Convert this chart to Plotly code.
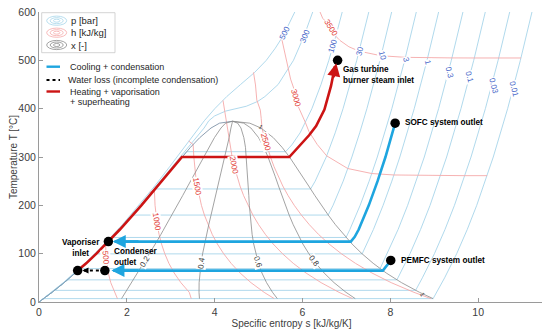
import plotly.graph_objects as go

# ---- saturation dome and quality lines (s in kJ/kg/K, T in degC) ----
Q_T = [7, 20, 40, 60, 80, 100, 120, 140, 160, 180, 200, 220, 240, 260, 280,
       300, 320, 340, 360, 370, 373.95]
X00 = [0.106, 0.297, 0.572, 0.831, 1.076, 1.307, 1.528, 1.739, 1.943, 2.139, 2.331,
       2.518, 2.702, 2.885, 3.069, 3.255, 3.449, 3.660, 3.917, 4.111, 4.407]
X02 = [1.880, 1.970, 2.109, 2.247, 2.383, 2.517, 2.648, 2.777, 2.904, 3.029, 3.150,
       3.271, 3.390, 3.508, 3.626, 3.745, 3.867, 3.995, 4.144, 4.249, 4.407]
X04 = [3.654, 3.644, 3.646, 3.662, 3.690, 3.726, 3.768, 3.815, 3.866, 3.918, 3.970,
       4.024, 4.078, 4.131, 4.184, 4.235, 4.284, 4.330, 4.371, 4.386, 4.407]
X06 = [5.427, 5.318, 5.182, 5.077, 4.997, 4.935, 4.889, 4.853, 4.827, 4.807, 4.790,
       4.778, 4.766, 4.755, 4.742, 4.725, 4.702, 4.665, 4.599, 4.524, 4.407]
X08 = [7.201, 6.992, 6.719, 6.493, 6.304, 6.145, 6.009, 5.891, 5.789, 5.696, 5.610,
       5.531, 5.454, 5.378, 5.299, 5.215, 5.119, 5.001, 4.826, 4.662, 4.407]
X10 = [8.975, 8.666, 8.256, 7.908, 7.611, 7.354, 7.129, 6.929, 6.750, 6.586, 6.430,
       6.284, 6.142, 6.001, 5.857, 5.705, 5.536, 5.336, 5.054, 4.800, 4.407]

# saturated liquid line down to the origin
LIQ_T = [0.01] + Q_T
LIQ_S = [0.0] + X00

# ---- isobars [bar] ----
P_LEVELS = ["0.01", "0.03", "0.1", "0.3", "1", "3", "10", "30", "100"]
P_TSAT = [7.0, 24.1, 45.8, 69.1, 99.6, 133.5, 179.9, 233.9, 311.0]
P_SF = [0.106, 0.354, 0.649, 0.944, 1.303, 1.672, 2.138, 2.645, 3.360]
P_SG = [8.975, 8.577, 8.149, 7.768, 7.359, 6.992, 6.585, 6.186, 5.616]
P_SUP_T = [
    [25, 50, 100, 150, 200, 250, 300, 400, 500, 600],
    [50, 100, 150, 200, 250, 300, 400, 500, 600],
    [50, 100, 150, 200, 250, 300, 400, 500, 600],
    [100, 150, 200, 250, 300, 400, 500, 600],
    [150, 200, 250, 300, 400, 500, 600],
    [150, 200, 250, 300, 400, 500, 600],
    [200, 250, 300, 350, 400, 500, 600],
    [250, 300, 350, 400, 450, 500, 600],
    [325, 350, 400, 450, 500, 550, 600],
]
P_SUP_S = [
    [9.090, 9.237, 9.512, 9.752, 9.968, 10.164, 10.345, 10.672, 10.962, 11.226],
    [8.730, 9.005, 9.245, 9.461, 9.657, 9.838, 10.165, 10.455, 10.719],
    [8.174, 8.449, 8.689, 8.905, 9.102, 9.283, 9.609, 9.900, 10.163],
    [7.931, 8.177, 8.395, 8.593, 8.774, 9.100, 9.390, 9.654],
    [7.615, 7.836, 8.035, 8.217, 8.545, 8.836, 9.100],
    [7.079, 7.313, 7.518, 7.704, 8.035, 8.327, 8.592],
    [6.696, 6.927, 7.125, 7.303, 7.467, 7.764, 8.031],
    [6.289, 6.541, 6.745, 6.924, 7.086, 7.236, 7.510],
    [5.757, 5.946, 6.214, 6.422, 6.600, 6.759, 6.905],
]
P300_T = [0.01, 20, 40, 60, 80, 100, 120, 140, 160, 180, 200, 220, 240, 260, 280, 300,
          320, 340, 360, 375, 385, 395, 400, 405, 415, 425, 450, 500, 550, 600]
P300_S = [0.0, 0.290, 0.560, 0.814, 1.055, 1.285, 1.505, 1.716, 1.919, 2.115, 2.306,
          2.490, 2.672, 2.852, 3.032, 3.215, 3.400, 3.590, 3.760, 3.867, 4.000, 4.250,
          4.476, 4.720, 4.980, 5.144, 5.445, 5.795, 6.034, 6.233]
P500_T = [0.01, 40, 80, 120, 160, 200, 240, 280, 320, 350, 375, 400, 425, 450, 475,
          500, 525, 550, 600]
P500_S = [0.0, 0.553, 1.044, 1.489, 1.898, 2.277, 2.636, 2.976, 3.305, 3.550, 3.764,
          4.003, 4.275, 4.590, 4.910, 5.176, 5.380, 5.556, 5.825]

# ---- isenthalps [kJ/kg] ----
H500_T = [110.6, 119.1, 100, 80, 60, 40, 20, 7]
H500_S = [1.390, 1.519, 1.524, 1.543, 1.578, 1.634, 1.716, 1.786]
H1000_T = [226, 232, 200, 180, 160, 140, 120, 100, 80, 60, 40, 20, 7]
H1000_S = [2.514, 2.628, 2.643, 2.662, 2.692, 2.734, 2.790, 2.864, 2.958, 3.079,
           3.231, 3.422, 3.467]
H1500_T = [333, 325.8, 300, 280, 260, 240, 220, 200, 180, 160, 140, 120, 100, 80,
           60, 40, 20, 7]
H1500_S = [3.410, 3.510, 3.526, 3.545, 3.570, 3.603, 3.646, 3.699, 3.766, 3.847,
           3.944, 4.062, 4.204, 4.375, 4.580, 4.827, 5.127, 5.356]
H2000_T = [417, 389, 370, 360, 340, 320, 300, 280, 260, 240, 220, 200, 180, 160,
           140, 120, 100, 80, 60, 40, 20, 7]
H2000_S = [4.190, 4.240, 4.281, 4.293, 4.322, 4.357, 4.398, 4.448, 4.507, 4.578,
           4.660, 4.756, 4.870, 5.001, 5.154, 5.333, 5.544, 5.790, 6.081, 6.424,
           6.833, 7.141]
H2500_T = [475, 449, 418, 397, 380, 358, 340, 320, 300, 280, 260, 240, 220, 200,
           180, 160, 140, 120, 100, 80, 60, 40, 20, 7]
H2500_S = [4.885, 4.930, 4.960, 5.040, 5.060, 5.080, 5.138, 5.200, 5.271, 5.352,
           5.445, 5.552, 5.673, 5.813, 5.974, 6.156, 6.364, 6.605, 6.884, 7.206,
           7.582, 8.021, 8.539, 8.926]
H3000_T = [545.8, 518.9, 483.9, 461, 437.5, 404.3, 371.9, 353, 325.9, 302.4, 276.2,
           265.8, 262.8, 262, 261.4, 261.4, 261.4]
H3000_S = [5.524, 5.592, 5.682, 5.730, 5.819, 5.904, 6.064, 6.146, 6.336, 6.551,
           7.030, 7.577, 8.081, 8.636, 9.143, 9.699, 10.205]
H3500_T = [600, 587, 574, 549.9, 541.4, 528.1, 519, 509.5, 506.2, 505.2, 505,
           504.9, 504.9, 504.9]
H3500_S = [6.400, 6.460, 6.598, 6.759, 6.849, 7.057, 7.288, 7.790, 8.343, 8.850,
           9.406, 9.913, 10.469, 10.976]

# ---- process paths ----
COOL1_T = [370, 300, 250, 200, 150, 135, 125, 125]
COOL1_S = [8.11, 7.89, 7.71, 7.51, 7.28, 7.19, 7.10, 1.72]
COOL2_T = [86, 78, 70, 65, 65]
COOL2_S = [8.01, 7.94, 7.87, 7.83, 1.69]
LOSS_T = [65, 65]
LOSS_S = [1.50, 0.88]
HEAT_T = [65, 80, 100, 125, 150, 200, 250, 300, 300, 315, 326, 345, 364, 398, 447, 488]
HEAT_S = [0.88, 1.076, 1.307, 1.58, 1.842, 2.331, 2.793, 3.255, 5.70, 5.85, 5.97,
          6.15, 6.31, 6.50, 6.65, 6.74]
POINT_T = [500, 370, 86, 125, 65, 65]
POINT_S = [6.80, 8.11, 8.01, 1.58, 1.50, 0.88]

FONT = "Liberation Sans, Arial, sans-serif"
C_P = "#a7d5ea"
C_H = "#f5a9a9"
C_X = "#8c8c8c"
C_BLUE = "#1ea5df"
C_RED = "#cc1414"

# the page body adds an 8 px offset, so the figure is laid out 8 px smaller
PAGE_OFF = 8
ML, MR, MT, MB = 39 - PAGE_OFF, 6, 12 - PAGE_OFF, 33
PLOT_W, PLOT_H = 505, 290

fig = go.Figure()


def add_line(xs, ys, color, width, dash="solid"):
    fig.add_trace(go.Scatter(x=xs, y=ys, mode="lines", showlegend=False,
                             hoverinfo="skip",
                             line=dict(color=color, width=width, dash=dash)))


# isobars
for tsat, sf, sg, ts, ss in zip(P_TSAT, P_SF, P_SG, P_SUP_T, P_SUP_S):
    liq = [(s, t) for s, t in zip(LIQ_S, LIQ_T) if t < tsat]
    xs = [p[0] for p in liq] + [sf, sg] + ss
    ys = [p[1] for p in liq] + [tsat, tsat] + ts
    add_line(xs, ys, C_P, 0.9)
add_line(P300_S, P300_T, C_P, 0.9)
add_line(P500_S, P500_T, C_P, 0.9)

# isenthalps
for hs, ht in [(H500_S, H500_T), (H1000_S, H1000_T), (H1500_S, H1500_T),
               (H2000_S, H2000_T), (H2500_S, H2500_T), (H3000_S, H3000_T),
               (H3500_S, H3500_T)]:
    add_line(hs, ht, C_H, 0.9)

# quality lines and dome
add_line(LIQ_S, LIQ_T, "#7f93a8", 0.9)
for xq in [X02, X04, X06, X08, X10]:
    add_line(xq, Q_T, C_X, 0.8)

# process paths
add_line(COOL1_S, COOL1_T, C_BLUE, 2.6)
add_line(COOL2_S, COOL2_T, C_BLUE, 2.6)
add_line(LOSS_S, LOSS_T, "black", 2, dash="dot")
add_line(HEAT_S, HEAT_T, C_RED, 2.6)

fig.add_trace(go.Scatter(x=POINT_S, y=POINT_T, mode="markers", showlegend=False,
                         hoverinfo="skip",
                         marker=dict(color="black", size=9.5)))

ann = []

# contour labels
P_LAB = [("500", 5.61, 557, -64), ("300", 6.05, 550, -68), ("100", 6.70, 530, -74),
         ("30", 7.30, 519, -76), ("10", 7.81, 509, 76), ("3", 8.36, 502, 76),
         ("1", 8.85, 495, 76), ("0.3", 9.34, 474, 76), ("0.1", 9.80, 464, 76),
         ("0.03", 10.35, 448, 76), ("0.01", 10.82, 440, 76)]
H_LAB = [("3500", 6.64, 568, 58), ("3000", 5.86, 422, 74), ("2500", 5.16, 332, 74),
         ("2000", 4.43, 284, 80), ("1500", 3.60, 239, 80), ("1000", 2.68, 167, 82),
         ("500", 1.53, 91, 85)]
X_LAB = [("0.2", 2.41, 84, -58), ("0.4", 3.70, 82, -82), ("0.6", 4.99, 82, 72),
         ("0.8", 6.27, 84, 52)]
for labs, col in [(P_LAB, "#3f63c8"), (H_LAB, "#e23b35"), (X_LAB, "#3a3a3a")]:
    for txt, xs, yt, ang in labs:
        ann.append(dict(x=xs, y=yt, text=txt, showarrow=False, textangle=ang,
                        bgcolor="white", borderpad=0,
                        font=dict(family=FONT, size=8, color=col)))
ann.append(dict(x=8.73, y=14, text="1", showarrow=False, textangle=60,
                font=dict(family=FONT, size=6, color="#3a3a3a")))
ann.append(dict(x=5.06, y=362, text="1", showarrow=False, textangle=30,
                font=dict(family=FONT, size=6, color="#3a3a3a")))

# arrows on process paths
for x, y, ax, ay, col, w in [(1.68, 125, 2.3, 125, C_BLUE, 2.6),
                             (1.65, 65, 2.3, 65, C_BLUE, 2.6),
                             (6.77, 494, 6.70, 462, C_RED, 2.6),
                             (0.99, 65, 1.12, 65, "black", 1.5)]:
    ann.append(dict(x=x, y=y, ax=ax, ay=ay, xref="x", yref="y", axref="x", ayref="y",
                    text="", showarrow=True, arrowhead=2, arrowsize=1 if w > 2 else 0.8,
                    arrowwidth=w, arrowcolor=col))

# point labels
BOLD = dict(family=FONT, size=8.2, color="black", weight="bold")
for txt, x, y, xa, al in [("Gas turbine<br>burner steam inlet", 6.88, 470, "left", "left"),
                          ("SOFC system outlet", 8.28, 371, "left", "left"),
                          ("PEMFC system outlet", 8.20, 85, "left", "left"),
                          ("Vaporiser<br>inlet", 0.95, 111, "center", "center"),
                          ("Condenser<br>outlet", 1.67, 93, "left", "left")]:
    ann.append(dict(x=x, y=y, text=txt, showarrow=False, xanchor=xa, yanchor="middle",
                    align=al, font=BOLD))


# legend drawn in paper coordinates (positions given in page pixels)
def px(v):
    return (v - 39) / PLOT_W


def py(v):
    return (302 - v) / PLOT_H


shapes = [dict(type="rect", xref="paper", yref="paper", x0=px(41.7), x1=px(115),
               y0=py(52.7), y1=py(12.7), line=dict(color="#c8c8c8", width=0.8),
               fillcolor="white")]
for cy, col in [(20.7, C_P), (32.7, C_H), (45.0, C_X)]:
    for rx, ry in [(10, 4.6), (6.5, 3.0), (3.2, 1.5)]:
        shapes.append(dict(type="circle", xref="paper", yref="paper",
                           x0=px(56.7 - rx), x1=px(56.7 + rx),
                           y0=py(cy + ry), y1=py(cy - ry),
                           line=dict(color=col, width=0.8)))
for txt, cy in [("p [bar]", 20.7), ("h [kJ/kg]", 32.7), ("x [-]", 45.0)]:
    ann.append(dict(x=px(69), y=py(cy), xref="paper", yref="paper", text=txt,
                    showarrow=False, xanchor="left", yanchor="middle",
                    font=dict(family=FONT, size=9.5, color="#262626")))

for cy, col, dash, w in [(66.7, C_BLUE, "solid", 2.4), (80, "black", "dot", 2),
                         (91.5, C_RED, "solid", 2.4)]:
    shapes.append(dict(type="line", xref="paper", yref="paper", x0=px(46.5),
                       x1=px(60), y0=py(cy), y1=py(cy),
                       line=dict(color=col, width=w, dash=dash)))
for txt, x, cy in [("Cooling + condensation", 68, 66.7),
                   ("Water loss (incomplete condensation)", 66, 80),
                   ("Heating + vaporisation", 68, 91.5),
                   ("+ superheating", 68, 102)]:
    ann.append(dict(x=px(x), y=py(cy), xref="paper", yref="paper", text=txt,
                    showarrow=False, xanchor="left", yanchor="middle",
                    font=dict(family=FONT, size=9, color="#262626")))

axis_common = dict(showgrid=False, zeroline=False, showline=True, linecolor="#9a9a9a",
                   linewidth=1, ticks="inside", ticklen=4, tickcolor="#9a9a9a",
                   automargin=False, ticklabeloverflow="allow",
                   tickfont=dict(family=FONT, size=10.5, color="#404040"))
fig.update_layout(
    width=ML + PLOT_W + MR, height=MT + PLOT_H + MB,
    margin=dict(l=ML, r=MR, t=MT, b=MB),
    paper_bgcolor="white", plot_bgcolor="white",
    xaxis=dict(range=[0, 11.5], tickvals=[0, 2, 4, 6, 8, 10],
               title=dict(text="Specific entropy s [kJ/kg/K]", standoff=2,
                          font=dict(family=FONT, size=10, color="#404040")),
               **axis_common),
    yaxis=dict(range=[0, 600], tickvals=[0, 100, 200, 300, 400, 500, 600],
               title=dict(text="Temperature T [°C]", standoff=1,
                          font=dict(family=FONT, size=10, color="#404040")),
               **axis_common),
    annotations=ann,
    shapes=shapes,
)

fig.write_html("out.html")
